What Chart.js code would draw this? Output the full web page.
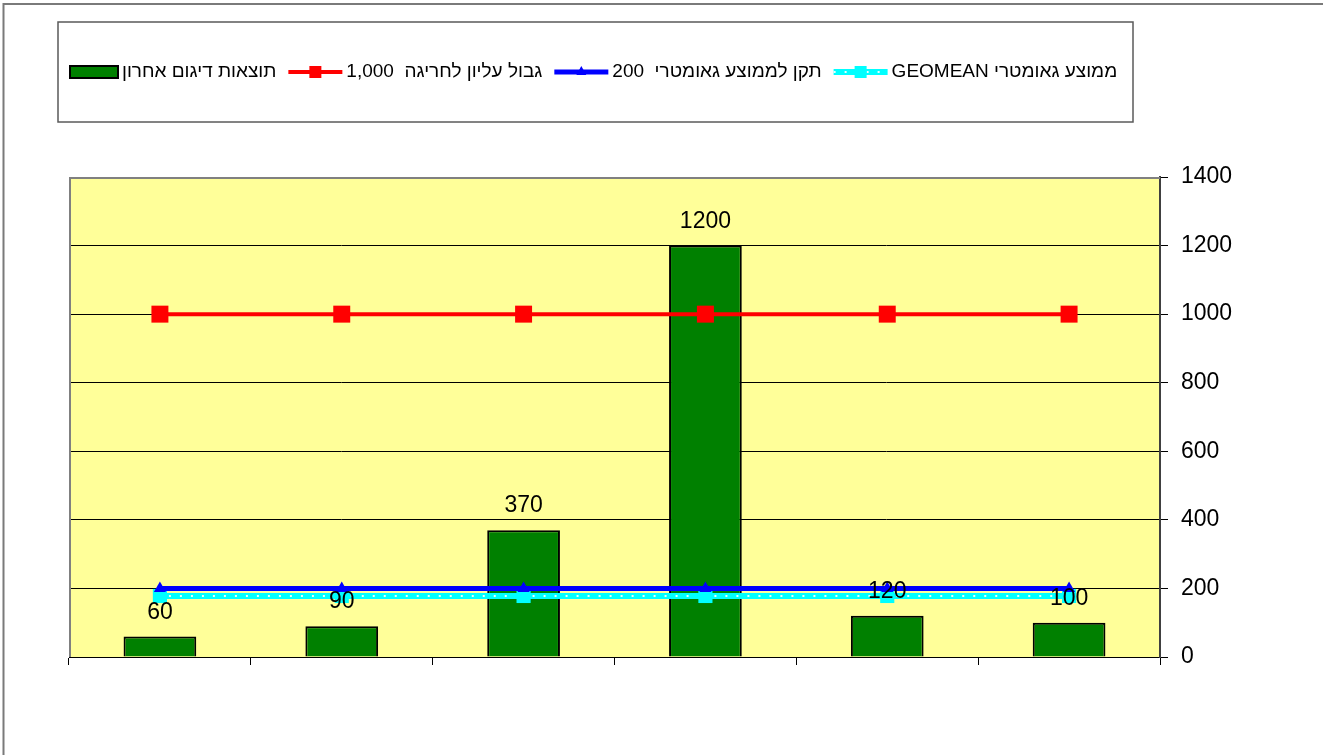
<!DOCTYPE html>
<html>
<head>
<meta charset="utf-8">
<script src="https://cdn.jsdelivr.net/npm/chart.js@4.4.1/dist/chart.umd.min.js"></script>
<style>
  html, body { margin: 0; padding: 0; background: #fff; }
  #wrap { width: 1323px; height: 755px; }
</style>
</head>
<body>
<div id="wrap"><canvas id="chart" width="1323" height="755"></canvas></div>
<script>
// chart data
const categories = ['1', '2', '3', '4', '5', '6'];
const lastSample = [60, 90, 370, 1200, 120, 100];
const upperLimit = [1000, 1000, 1000, 1000, 1000, 1000];
const geoStandard = [200, 200, 200, 200, 200, 200];
const geoMean = [178, 178, 178, 178, 178, 178];
const yTicks = [0, 200, 400, 600, 800, 1000, 1200, 1400];

const seriesLabels = [
    'תוצאות דיגום אחרון',
    'גבול עליון לחריגה  1,000',
    'תקן לממוצע גאומטרי  200',
    'GEOMEAN ממוצע גאומטרי'
];

const FONT = '"Liberation Sans", Arial, sans-serif';

// yellow plot background + frames
const framePlugin = {
    id: 'frame',
    beforeDraw(chart) {
        const ctx = chart.ctx;
        const a = chart.chartArea;
        ctx.save();
        ctx.fillStyle = '#fff';
        ctx.fillRect(0, 0, chart.width, chart.height);
        ctx.fillStyle = '#FFFF99';
        ctx.fillRect(a.left, a.top, a.right - a.left, a.bottom - a.top);
        // outer frame (top and left only visible)
        ctx.strokeStyle = '#7a7a7a';
        ctx.lineWidth = 2;
        ctx.beginPath();
        ctx.moveTo(3.5, chart.height);
        ctx.lineTo(3.5, 4);
        ctx.lineTo(chart.width, 4);
        ctx.stroke();
        ctx.restore();
    },
    beforeDatasetsDraw(chart) {
        const ctx = chart.ctx;
        const a = chart.chartArea;
        ctx.save();
        ctx.strokeStyle = '#808080';
        ctx.lineWidth = 2;
        ctx.beginPath();
        ctx.moveTo(a.left + 1, a.bottom);
        ctx.lineTo(a.left + 1, a.top + 1);
        ctx.lineTo(a.right, a.top + 1);
        ctx.stroke();
        ctx.restore();
    }
};

// white dots inside the cyan geomean line
function dottedOverlay(ctx, x1, y1, x2, y2) {
    ctx.save();
    ctx.strokeStyle = '#e8ffff';
    ctx.lineWidth = 2;
    ctx.setLineDash([2, 9]);
    ctx.beginPath();
    ctx.moveTo(x1, y1);
    ctx.lineTo(x2, y2);
    ctx.stroke();
    ctx.restore();
}

const dotPlugin = {
    id: 'dots',
    afterDatasetDraw(chart, args) {
        if (args.index !== 3) return;
        const pts = args.meta.data;
        for (let i = 0; i < pts.length - 1; i++) {
            dottedOverlay(chart.ctx, pts[i].x + 9, pts[i].y, pts[i + 1].x - 9, pts[i + 1].y);
        }
    }
};

// value labels above bars
const valuePlugin = {
    id: 'values',
    afterDatasetsDraw(chart) {
        const ctx = chart.ctx;
        const meta = chart.getDatasetMeta(0);
        ctx.save();
        ctx.font = '23px ' + FONT;
        ctx.fillStyle = '#000';
        ctx.textAlign = 'center';
        ctx.textBaseline = 'middle';
        meta.data.forEach((bar, i) => {
            ctx.fillText(String(lastSample[i]), bar.x, bar.y - 24);
        });
        ctx.restore();
    }
};

// boxed legend like excel
const legendPlugin = {
    id: 'boxLegend',
    afterDraw(chart) {
        const ctx = chart.ctx;
        ctx.save();
        ctx.strokeStyle = '#5a5a5a';
        ctx.lineWidth = 1.5;
        ctx.strokeRect(58, 22, 1075, 100);

        ctx.font = '19px ' + FONT;
        ctx.textBaseline = 'middle';
        ctx.textAlign = 'left';
        const y = 72;
        let x = 70;
        chart.data.datasets.forEach((ds, i) => {
            if (ds.type === 'bar') {
                ctx.fillStyle = ds.backgroundColor;
                ctx.fillRect(x, y - 6, 48, 12);
                ctx.strokeStyle = '#000';
                ctx.lineWidth = 2;
                ctx.strokeRect(x, y - 6, 48, 12);
                x += 48;
            } else {
                ctx.strokeStyle = ds.borderColor;
                ctx.lineWidth = ds.borderWidth;
                ctx.beginPath();
                ctx.moveTo(x, y);
                ctx.lineTo(x + 54, y);
                ctx.stroke();
                if (i === 3) dottedOverlay(ctx, x, y, x + 54, y);
                ctx.fillStyle = ds.pointBackgroundColor;
                const cx = x + 27;
                if (ds.pointStyle === 'triangle') {
                    ctx.beginPath();
                    ctx.moveTo(cx, y - 6);
                    ctx.lineTo(cx + 5, y + 3);
                    ctx.lineTo(cx - 5, y + 3);
                    ctx.closePath();
                    ctx.fill();
                } else {
                    ctx.fillRect(cx - 6, y - 6, 12, 12);
                }
                x += 54;
            }
            x += 4;
            ctx.fillStyle = '#000';
            ctx.fillText(ds.label, x, y);
            x += ctx.measureText(ds.label).width + 12;
        });
        ctx.restore();
    }
};

new Chart(document.getElementById('chart').getContext('2d'), {
    data: {
        labels: categories,
        datasets: [
            {
                type: 'bar',
                label: seriesLabels[0],
                data: lastSample,
                backgroundColor: '#008000',
                borderColor: '#000',
                borderWidth: 2,
                barPercentage: 0.4,
                categoryPercentage: 1.0,
                order: 1
            },
            {
                type: 'line',
                label: seriesLabels[1],
                data: upperLimit,
                borderColor: '#ff0000',
                borderWidth: 4,
                pointStyle: 'rect',
                pointRadius: 12,
                pointBorderWidth: 0,
                pointBackgroundColor: '#ff0000',
                pointBorderColor: '#ff0000',
                order: 0
            },
            {
                type: 'line',
                label: seriesLabels[2],
                data: geoStandard,
                borderColor: '#0000ff',
                borderWidth: 5,
                pointStyle: 'triangle',
                pointRadius: 7,
                pointBorderWidth: 0,
                pointBackgroundColor: '#0000ff',
                pointBorderColor: '#0000ff',
                order: 0
            },
            {
                type: 'line',
                label: seriesLabels[3],
                data: geoMean,
                borderColor: '#00ffff',
                borderWidth: 6,
                pointStyle: 'rect',
                pointRadius: 10,
                pointBorderWidth: 0,
                pointBackgroundColor: '#00ffff',
                pointBorderColor: '#00ffff',
                order: 0
            }
        ]
    },
    options: {
        responsive: false,
        animation: false,
        layout: { padding: { left: 69, right: 63, top: 177, bottom: 90 } },
        plugins: {
            legend: { display: false },
            tooltip: { enabled: false }
        },
        scales: {
            x: {
                offset: true,
                grid: { offset: true, drawOnChartArea: false, drawTicks: true, tickLength: 8, color: '#000', lineWidth: 1 },
                border: { color: '#000', width: 1 },
                ticks: { display: false },
                afterFit(scale) { scale.height = 8; }
            },
            y: {
                position: 'right',
                min: 0,
                max: 1400,
                afterBuildTicks(scale) { scale.ticks = yTicks.map(v => ({ value: v })); },
                ticks: {
                    color: '#000',
                    font: { size: 23, family: FONT },
                    padding: 13,
                    callback: v => String(v)
                },
                grid: { color: '#000', lineWidth: 1, tickLength: 8 },
                border: { color: '#404040', width: 2 },
                afterFit(scale) { scale.width = 100; }
            }
        }
    },
    plugins: [framePlugin, dotPlugin, valuePlugin, legendPlugin]
});
</script>
</body>
</html>
